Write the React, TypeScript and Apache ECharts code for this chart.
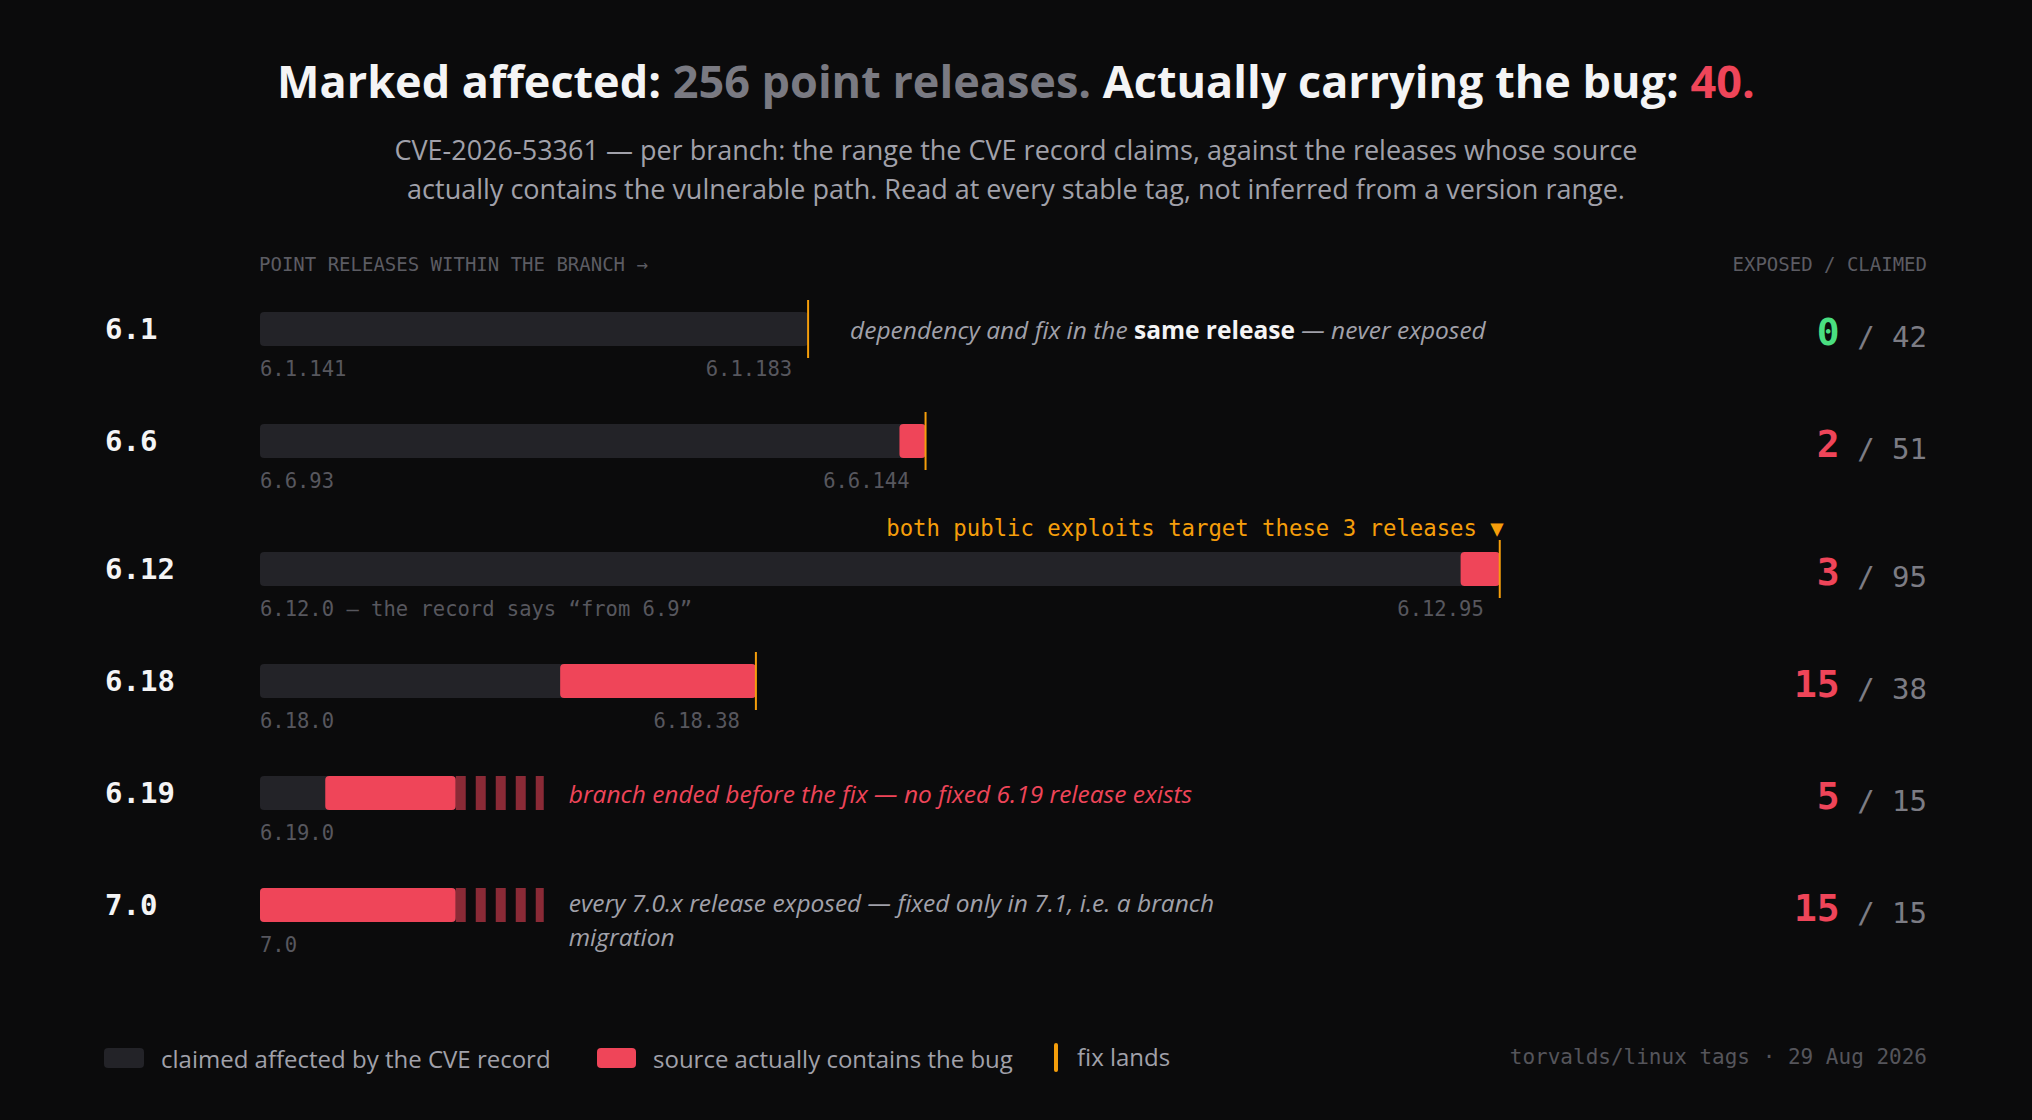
import { useEffect, useRef } from 'react';
import * as echarts from 'echarts';

// ---------------------------------------------------------------------------
// Data
// ---------------------------------------------------------------------------

const branches = ['6.1', '6.6', '6.12', '6.18', '6.19', '7.0'];
// releases the CVE record claims as affected, per branch
const claimedCount = [42, 51, 95, 38, 15, 15];
// offset (in releases) where the vulnerable path first appears, and how many releases carry it
const exposedStart = [42, 49, 92, 23, 5, 0];
const exposedCount = [0, 2, 3, 15, 10, 15];
// printed totals on the right
const exposedTotal = [0, 2, 3, 15, 5, 15];
const claimedTotal = [42, 51, 95, 38, 15, 15];
const fixLands = [true, true, true, true, false, false];
const branchOpenEnded = [false, false, false, false, true, true];

const firstTags = ['6.1.141', '6.6.93', '6.12.0 — the record says “from 6.9”', '6.18.0', '6.19.0', '7.0'];
const lastTags = ['6.1.183', '6.6.144', '6.12.95', '6.18.38', '', ''];

const notes = [
  'dependency and fix in the **same release** — never exposed',
  '',
  '',
  '',
  'branch ended before the fix — no fixed 6.19 release exists',
  'every 7.0.x release exposed — fixed only in 7.1, i.e. a branch\nmigration',
];
const noteTone = ['muted', '', '', '', 'alert', 'muted'];
const callouts = ['', '', 'both public exploits target these 3 releases ▼', '', '', ''];

const legendLabels = ['claimed affected by the CVE record', 'source actually contains the bug', 'fix lands'];

// ---------------------------------------------------------------------------
// Styling
// ---------------------------------------------------------------------------

const BG = '#0b0b0c';
const CLAIMED = '#232328';
const EXPOSED = '#ef4559';
const TAIL = '#8a2a36';
const FIX = '#f59e0b';
const SAFE = '#4ade80';
const MUTED = '#a1a1aa';
const DIM = '#57575e';

const SANS = '"Open Sans", "Noto Sans", sans-serif';
const MONO = '"DejaVu Sans Mono", "Liberation Mono", monospace';

const CALLOUT_EXTRA = 16 / 112;
const NOTE_SIZE = 24.5;
const NOTE_LINE = 34;

// row positions on the y value axis: one unit per row, plus room for a callout line
const rowPos = branches.map((_, i) => {
  let extra = 0;
  for (let k = 0; k <= i; k++) if (callouts[k]) extra += CALLOUT_EXTRA;
  return i + extra;
});

function noteRich(text: string) {
  return text
    .split('**')
    .map((part, idx) => (part ? `{${idx % 2 ? 'b' : 'i'}|${part.replace(/\n/g, `}\n{i|`)}}` : ''))
    .join('');
}

function renderRow(params: any, api: any) {
  const i = params.dataIndex;
  const [x0, yc] = api.coord([0, api.value(1)]);
  const unit = api.size([1, 0])[0];
  const xEnd = x0 + claimedCount[i] * unit;
  const h = 34;
  const children: any[] = [];

  // branch label
  children.push({
    type: 'text',
    x: 105,
    y: yc,
    style: { text: branches[i], fill: '#f4f4f5', fontFamily: MONO, fontWeight: 'bold', fontSize: 29, align: 'left', verticalAlign: 'middle' },
  });

  children.push({ type: 'rect', shape: { x: x0, y: yc - h / 2, width: xEnd - x0, height: h, r: 4 }, style: { fill: CLAIMED } });

  if (exposedCount[i] > 0) {
    children.push({
      type: 'rect',
      shape: { x: x0 + exposedStart[i] * unit, y: yc - h / 2, width: exposedCount[i] * unit, height: h, r: 4 },
      style: { fill: EXPOSED },
    });
  }

  if (branchOpenEnded[i]) {
    const tail = 88;
    for (let k = 0; k * 20 < tail; k++) {
      children.push({
        type: 'rect',
        shape: { x: xEnd + k * 20, y: yc - h / 2, width: Math.min(10, tail - k * 20), height: h },
        style: { fill: TAIL },
      });
    }
  }

  if (fixLands[i]) {
    children.push({
      type: 'line',
      shape: { x1: xEnd, y1: yc - 29, x2: xEnd, y2: yc + 29 },
      style: { stroke: FIX, lineWidth: 2 },
    });
  }

  // tag labels under the bar
  children.push({
    type: 'text',
    x: x0,
    y: yc + 40,
    style: { text: firstTags[i], fill: DIM, fontFamily: MONO, fontSize: 20.5, align: 'left', verticalAlign: 'middle' },
  });
  if (lastTags[i]) {
    children.push({
      type: 'text',
      x: xEnd - 16,
      y: yc + 40,
      style: { text: lastTags[i], fill: DIM, fontFamily: MONO, fontSize: 20.5, align: 'right', verticalAlign: 'middle' },
    });
  }

  if (callouts[i]) {
    children.push({
      type: 'text',
      x: xEnd + 4,
      y: yc - 41,
      style: { text: callouts[i], fill: FIX, fontFamily: MONO, fontSize: 22.3, align: 'right', verticalAlign: 'middle' },
    });
  }

  if (notes[i]) {
    const tone = noteTone[i] === 'alert' ? EXPOSED : MUTED;
    const noteX = branchOpenEnded[i] ? xEnd + 113 : xEnd + 42;
    const multiline = notes[i].includes('\n');
    children.push({
      type: 'text',
      x: noteX,
      y: yc - NOTE_LINE / 2 - (multiline ? 3 : 0),
      style: {
        text: noteRich(notes[i]),
        align: 'left',
        verticalAlign: 'top',
        rich: {
          i: { fill: tone, fontFamily: SANS, fontStyle: 'italic', fontSize: NOTE_SIZE, lineHeight: NOTE_LINE },
          b: { fill: '#f4f4f5', fontFamily: SANS, fontWeight: 'bold', fontSize: NOTE_SIZE, lineHeight: NOTE_LINE },
        },
      },
    });
  }

  // exposed / claimed totals
  children.push({
    type: 'text',
    x: api.getWidth() - 105,
    y: yc + 22,
    style: {
      text: `{e|${exposedTotal[i]}}{c| / ${claimedTotal[i]}}`,
      align: 'right',
      verticalAlign: 'bottom',
      rich: {
        e: { fill: exposedTotal[i] === 0 ? SAFE : EXPOSED, fontFamily: MONO, fontWeight: 'bold', fontSize: 38, lineHeight: 38, verticalAlign: 'bottom' },
        c: { fill: '#7c7c84', fontFamily: MONO, fontSize: 29, lineHeight: 29, verticalAlign: 'bottom' },
      },
    },
  });

  return { type: 'group', children };
}

function buildOption(): echarts.EChartsOption {
  const legendY = 1058;
  return {
    animation: false,
    backgroundColor: BG,
    title: {
      left: 'center',
      top: 50,
      text: '{w|Marked affected: }{g|256 point releases.}{w| Actually carrying the bug: }{r|40.}',
      textStyle: {
        rich: {
          w: { color: '#f4f4f5', fontFamily: SANS, fontWeight: 'bold', fontSize: 45, lineHeight: 50 },
          g: { color: '#7a7a82', fontFamily: SANS, fontWeight: 'bold', fontSize: 45, lineHeight: 50 },
          r: { color: EXPOSED, fontFamily: SANS, fontWeight: 'bold', fontSize: 45, lineHeight: 50 },
        },
      },
      subtext:
        'CVE-2026-53361 — per branch: the range the CVE record claims, against the releases whose source\nactually contains the vulnerable path. Read at every stable tag, not inferred from a version range.',
      subtextStyle: { color: MUTED, fontFamily: SANS, fontSize: 27, lineHeight: 39 },
      itemGap: 30,
    },
    grid: { left: 260, right: 467, top: 217, bottom: 119, outerBoundsMode: 'none' } as any,
    xAxis: { type: 'value', min: 0, max: 100, show: false },
    yAxis: { type: 'value', min: -1, max: 6, inverse: true, show: false },
    graphic: [
      {
        type: 'text',
        left: 259,
        top: 254,
        style: { text: 'POINT RELEASES WITHIN THE BRANCH →', fill: '#5c5c63', fontFamily: MONO, fontSize: 19 },
      },
      {
        type: 'text',
        right: 105,
        top: 254,
        style: { text: 'EXPOSED / CLAIMED', fill: '#5c5c63', fontFamily: MONO, fontSize: 19 },
      },
      { type: 'rect', shape: { x: 104, y: legendY - 10, width: 40, height: 20, r: 4 }, style: { fill: CLAIMED } },
      {
        type: 'text',
        x: 161,
        y: legendY,
        style: { text: legendLabels[0], fill: MUTED, fontFamily: SANS, fontSize: 24, verticalAlign: 'middle' },
      },
      { type: 'rect', shape: { x: 597, y: legendY - 10, width: 39, height: 20, r: 4 }, style: { fill: EXPOSED } },
      {
        type: 'text',
        x: 653,
        y: legendY,
        style: { text: legendLabels[1], fill: MUTED, fontFamily: SANS, fontSize: 24, verticalAlign: 'middle' },
      },
      { type: 'rect', shape: { x: 1054, y: legendY - 15, width: 4, height: 29, r: 2 }, style: { fill: FIX } },
      {
        type: 'text',
        x: 1077,
        y: legendY - 2,
        style: { text: legendLabels[2], fill: MUTED, fontFamily: SANS, fontSize: 24, verticalAlign: 'middle' },
      },
      {
        type: 'text',
        right: 105,
        top: legendY - 12,
        style: { text: 'torvalds/linux tags · 29 Aug 2026', fill: '#55555b', fontFamily: MONO, fontSize: 21 },
      },
    ],
    series: [
      {
        type: 'custom',
        clip: false,
        renderItem: renderRow as any,
        data: rowPos.map((p) => [0, p]),
      },
    ],
  };
}

export default function App() {
  const ref = useRef<HTMLDivElement | null>(null);

  useEffect(() => {
    if (!ref.current) return;
    const chart = echarts.init(ref.current, null, { renderer: 'svg' });
    chart.setOption(buildOption());
    const onResize = () => chart.resize();
    window.addEventListener('resize', onResize);
    return () => {
      window.removeEventListener('resize', onResize);
      chart.dispose();
    };
  }, []);

  return (
    <div
      ref={ref}
      style={{ position: 'fixed', left: 0, top: 0, width: '100vw', height: '100vh', background: BG }}
    />
  );
}
